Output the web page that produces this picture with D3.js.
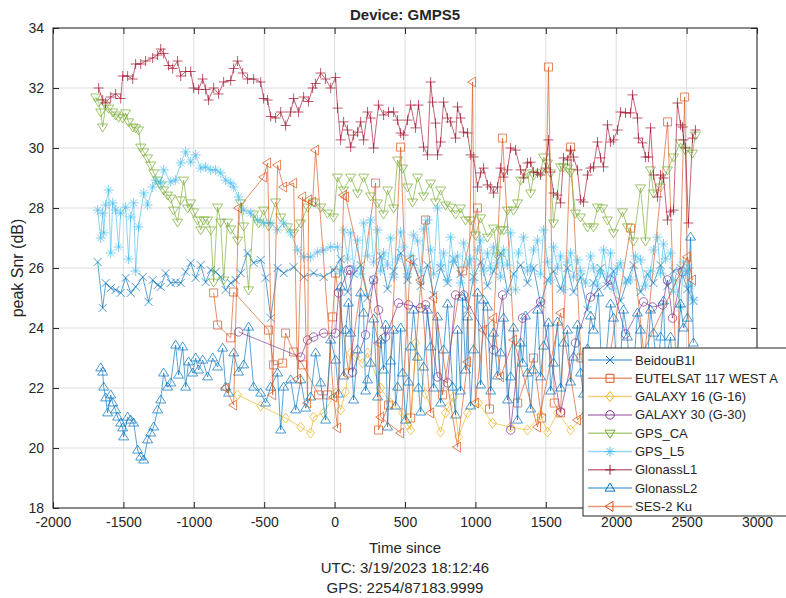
<!DOCTYPE html>
<html>
<head>
<meta charset="utf-8">
<script src="https://cdn.jsdelivr.net/npm/d3@7"></script>
<style>
  body { margin: 0; background: #fff; }
  text { font-family: "Liberation Sans", Arial, Helvetica, sans-serif; fill: #262626; }
</style>
</head>
<body>
<div id="chart"></div>
<script>
// ---- data (time since reference, peak snr in dB) ----
const beidouT = [-1683,-1647,-1626,-1590,-1555,-1519,-1484,-1448,-1413,-1363,-1321,-1292,-1257,-1235,-1200,-1164,-1129,-1093,-1058,-1022,-987,-951,-916,-880,-845,-809,-774,-738,-703,-667,-618,-575,-525,-490,-454,-405,-362,-291,-220,-149,-78,-7,43,92,135,185,234,277,327,376,419,469,518,561,611,660,703,753,802,845,895,944,987,1037,1086,1129,1179,1228,1271,1321,1370,1413,1463,1512,1555,1605,1654,1697,1747,1796,1839,1889,1938,1981,2031,2080,2123,2173,2222,2265,2315,2364,2407,2457,2506,2549];
const beidouV = [26.2,24.67,25.5,25.33,25.27,25.17,25.67,25.17,25.37,25.7,24.87,25.6,25.43,25.37,25.83,25.5,25.53,25.5,25.87,26.17,25.67,26.1,25.53,25.93,25.87,25.7,25.27,25.5,25.6,25.83,26.5,26.17,26.27,25.67,24.33,26.0,25.83,26.03,25.7,25.83,25.7,25.93,26.3,25.2,25.8,26.1,25.0,25.6,26.4,25.3,25.9,26.5,25.6,26.2,25.4,26.1,25.1,26.0,25.5,26.3,25.8,24.6,25.7,26.2,25.4,25.9,26.5,25.2,25.8,26.1,25.5,26.0,24.8,25.6,25.9,25.3,26.0,25.2,25.7,24.6,25.5,26.0,25.4,25.9,24.9,25.6,26.1,25.2,25.8,25.5,26.1,25.4,25.9,26.0,25.3,24.9];

const eutelT = [-859,-831,-738,-717,-469,-433,-369,-348,-291,-227,-114,-50,-14,7,100,291,312,383,469,540,646,767,909,1015,1100,1193,1300,1413,1470,1519,1560,1605,1676,1750,1900,2102,2200,2365,2430,2486,2520];
const eutelV = [25.17,24.1,23.67,25.2,23.93,22.77,22.83,23.83,23.2,22.77,21.77,21.77,24.37,25.83,22.5,28.83,20.6,21.43,30.03,21.0,27.6,21.77,25.9,28.0,21.3,30.33,21.5,23.0,21.0,32.7,21.5,21.17,30.03,23.0,21.5,27.33,23.0,30.87,22.0,31.7,22.0];

const gal16T = [-689,-525,-348,-241,-170,-149,-78,7,43,78,114,149,199,234,327,398,483,518,540,575,646,753,788,809,845,880,944,1022,1122,1250,1370,1463,1512,1583,1676,1818,1960,2102];
const gal16V = [21.77,21.4,21.0,20.7,20.5,21.03,21.17,21.83,21.27,21.87,23.17,23.03,22.83,23.17,22.0,21.5,21.17,20.77,20.6,23.5,21.8,20.53,21.17,21.37,21.7,20.37,21.17,21.5,20.83,20.7,20.6,21.1,20.53,21.17,20.6,21.3,20.8,21.5];

const gal30T = [-682,-241,-192,-149,-78,7,28,99,114,128,220,277,312,362,454,525,611,646,731,802,859,916,1129,1193,1250,1335,1463,1605,1711,1818,1960,2066,2194,2258,2329,2364,2400,2471];
const gal30V = [23.87,23.03,23.6,23.7,23.83,23.83,25.17,25.93,25.93,22.53,23.77,25.6,24.6,23.7,24.83,24.77,24.67,24.77,22.37,22.17,25.1,25.1,23.27,25.1,20.6,24.33,24.87,21.2,23.5,25.03,25.6,23.8,24.87,24.7,24.77,25.6,24.33,25.87];

const gpsCaT = [-1697,-1676,-1661,-1647,-1626,-1605,-1576,-1555,-1534,-1505,-1484,-1463,-1434,-1413,-1392,-1377,-1356,-1328,-1306,-1285,-1257,-1235,-1214,-1186,-1164,-1143,-1115,-1093,-1072,-1044,-1022,-1001,-973,-951,-930,-902,-880,-859,-831,-809,-788,-760,-738,-689,-667,-646,-611,-575,-540,-504,-469,-419,-383,-334,-291,-241,-192,-149,-99,-50,-7,21,64,114,163,206,256,305,348,376,419,447,483,518,554,589,632,682,717,753,788,824,859,895,930,966,1001,1037,1086,1129,1157,1179,1200,1228,1271,1299,1321,1370,1392,1413,1463,1484,1512,1534,1555,1605,1626,1654,1676,1711,1747,1796,1839,1867,1903,1938,1981,2045,2080,2123,2173,2208,2244,2265,2315,2364,2407,2457,2492,2542,2563];
const gpsCaV = [31.7,31.53,31.2,30.7,31.43,31.33,31.2,31.1,31.03,31.0,31.17,30.87,30.7,30.67,30.6,30.03,29.87,29.67,29.43,29.17,28.93,28.77,28.6,28.43,28.33,27.93,27.53,28.27,28.93,28.0,28.17,27.87,27.6,27.27,27.6,27.6,27.27,25.53,28.03,27.53,25.6,27.53,27.3,26.93,28.17,27.4,25.27,27.8,27.5,27.93,27.4,28.2,27.7,27.37,27.17,27.5,28.03,28.2,28.03,27.83,27.7,29.03,28.6,29.03,28.5,29.03,28.4,28.17,27.8,28.6,28.0,29.6,29.33,28.7,28.2,29.03,28.4,28.83,28.2,28.6,28.1,28.03,27.8,28.0,27.6,27.6,27.1,27.67,27.03,27.33,26.4,27.27,27.27,27.93,27.93,28.17,28.93,29.17,28.5,29.1,29.17,29.7,29.5,29.17,27.5,29.37,29.37,29.33,29.2,27.83,27.7,27.37,27.37,28.03,28.0,27.6,27.17,27.87,27.37,26.9,28.67,26.9,29.27,28.5,28.7,29.27,29.7,30.17,29.93,29.83,30.43];

const gpsL5T = [-1683,-1661,-1647,-1640,-1626,-1605,-1590,-1576,-1555,-1534,-1519,-1484,-1463,-1448,-1427,-1413,-1392,-1356,-1328,-1292,-1271,-1235,-1214,-1164,-1129,-1093,-1058,-1022,-987,-951,-916,-880,-845,-809,-774,-738,-717,-682,-646,-596,-547,-504,-454,-405,-362,-312,-263,-220,-170,-121,-78,-28,
  21,43,64,92,114,135,163,185,206,234,256,277,305,327,348,376,398,419,447,469,490,518,540,561,589,611,632,660,682,703,731,753,774,802,824,845,873,895,916,944,966,987,1015,1037,1058,1086,1108,1129,1157,1179,1200,1228,1250,1285,1306,1342,1370,1392,1413,1441,1463,1484,1512,1534,1555,1583,1605,1626,1654,1676,1697,1725,1747,1782,1818,1839,1867,1889,1910,1938,1960,1981,2009,2031,2066,2102,2137,2173,2208,2244,2265,2293,2315,2336,2350,2386,2407,2421,2457,2478,2492,2513,2528,2549];
const gpsL5V = [27.93,27.0,27.83,27.17,28.1,28.6,26.5,28.17,27.93,26.7,27.83,28.03,26.3,27.7,28.17,25.9,27.37,28.5,28.1,28.7,28.93,28.83,29.27,28.87,28.93,29.5,29.87,29.53,29.77,29.33,29.37,29.27,29.27,29.17,28.93,28.83,28.7,28.37,27.93,27.83,27.6,27.5,27.5,27.27,27.5,27.17,26.6,26.37,26.37,26.53,26.6,26.7,
  26.7,25.9,27.27,26.3,27.17,26.0,26.93,25.8,27.5,26.4,27.6,26.2,27.27,25.9,26.5,26.1,27.0,25.7,26.3,27.2,26.7,25.8,26.4,27.1,26.9,25.9,27.3,27.6,26.6,25.8,28.0,26.1,26.5,25.6,27.03,26.2,26.4,25.5,26.83,26.1,26.3,25.6,26.6,26.93,25.9,26.5,26.0,26.7,26.17,25.7,26.6,26.1,27.17,25.27,26.5,27.03,25.9,26.03,26.6,26.93,25.8,27.27,26.2,25.6,26.7,26.0,26.4,25.27,26.2,26.5,25.7,26.27,25.9,25.5,26.4,26.0,25.4,25.83,26.6,25.7,26.5,25.3,26.0,26.17,25.5,25.6,26.4,26.27,25.4,25.9,26.6,27.03,25.83,26.8,26.3,26.5,25.2,25.6,24.7,26.2,25.8,26.0,25.4,24.93];

const glo1T = [-1676,-1647,-1626,-1590,-1555,-1519,-1505,-1470,-1434,-1413,-1377,-1342,-1292,-1257,-1235,-1214,-1179,-1150,-1115,-1093,-1058,-1022,-1001,-966,-937,-916,-895,-859,-824,-788,-738,-717,-689,-653,-618,-575,-525,-504,-476,-454,-419,-383,-348,-312,-291,-256,-220,-185,-156,-135,-99,-64,-28,7,21,43,64,92,114,135,163,185,206,234,256,277,312,348,383,419,447,469,490,518,540,575,596,632,660,682,696,717,731,753,774,802,824,859,873,895,916,944,966,987,1015,1037,1058,1086,1108,1129,1157,1179,1200,1228,1250,1285,1321,1342,1370,1392,1413,1441,1463,1498,1519,1534,1555,1583,1605,1626,1654,1676,1697,1725,1747,1768,1796,1818,1839,1867,1889,1910,1938,1960,1981,2009,2031,2066,2102,2116,2151,2158,2187,2208,2229,2244,2265,2293,2315,2336,2364,2386,2407,2435,2457,2471,2478,2492,2513,2542,2563];
const glo1V = [32.0,31.6,31.5,31.7,31.8,31.65,32.4,32.4,32.3,32.8,32.8,32.9,33.0,33.1,33.3,33.15,32.75,32.65,32.9,32.4,32.55,32.55,32.0,31.95,32.3,31.95,31.6,32.0,31.8,32.2,32.25,32.65,32.9,32.5,32.3,32.3,32.2,31.65,31.6,31.05,31.0,31.2,30.75,31.2,31.65,31.2,31.7,31.55,32.0,32.15,32.5,32.3,32.0,32.35,31.33,30.27,30.87,30.6,30.03,30.43,30.53,30.87,30.27,31.2,31.0,30.0,31.43,31.1,31.2,31.2,30.93,30.5,30.43,30.93,31.43,30.67,31.43,30.03,29.77,32.2,31.53,30.83,29.77,30.2,31.53,31.0,30.87,30.33,31.37,31.0,30.53,30.5,29.77,29.7,28.7,29.17,29.33,28.77,28.7,28.5,28.7,29.33,29.03,29.27,30.0,29.93,29.27,29.0,29.5,29.53,29.2,29.17,29.1,29.33,30.27,29.2,28.5,28.43,28.17,29.67,29.6,29.93,29.7,29.27,28.27,28.2,29.1,29.33,29.37,30.2,29.67,29.37,30.77,30.2,30.27,30.6,31.2,31.17,31.17,31.77,31.0,30.33,30.17,29.7,29.7,30.67,29.1,28.37,29.1,29.0,27.6,27.87,27.93,31.5,30.77,30.7,30.27,30.0,27.5,30.33,30.6];

const glo2T = [-1661,-1647,-1640,-1626,-1612,-1590,-1576,-1555,-1541,-1519,-1505,-1498,-1470,-1448,-1427,-1399,-1377,-1356,-1328,-1306,-1285,-1257,-1235,-1214,-1186,-1164,-1129,-1108,-1079,-1058,-1037,-1008,-987,-966,-937,-902,-866,-831,-795,-774,-753,-717,-682,-646,-611,-575,-525,-490,-454,-405,-383,-362,-312,-277,-241,-206,-170,-135,-99,-64,-28,
  7,28,43,64,78,99,114,135,163,185,206,220,234,256,277,305,327,348,362,376,398,419,433,447,469,483,504,525,540,561,589,596,611,632,660,682,703,731,753,774,802,838,859,873,895,909,930,944,966,987,1015,1037,1058,1086,1108,1129,1157,1179,1200,1228,1250,1271,1299,1321,1335,1356,1370,1392,1413,1441,1463,1484,1519,1534,1555,1583,1605,1626,1654,1676,1697,1725,1747,1768,1796,1818,1839,1874,1903,1924,1960,1981,2009,2031,2052,2080,2102,2123,2151,2173,2194,2222,2244,2265,2293,2315,2336,2350,2386,2407,2435,2457,2478,2506,2528,2549];
const glo2V = [22.67,22.53,22.03,21.67,21.17,21.77,21.5,21.27,21.03,20.83,20.67,20.37,21.03,20.93,20.83,19.93,19.7,19.6,20.27,20.5,20.7,21.27,21.6,22.5,22.03,22.17,23.43,22.43,23.37,22.03,22.87,22.5,23.0,22.6,22.93,22.37,23.0,22.7,23.33,22.03,21.83,23.17,22.53,22.77,24.03,22.03,21.83,21.5,22.03,22.5,20.6,22.03,22.27,21.27,22.27,21.33,21.7,23.17,22.17,20.93,23.6,
  22.93,21.8,25.37,22.4,23.93,24.83,23.83,21.6,23.27,25.17,24.5,21.9,22.27,22.83,24.3,21.7,23.6,22.6,24.1,20.7,22.9,23.93,21.4,22.03,24.0,22.5,20.93,22.2,23.37,24.6,23.03,22.0,21.2,22.7,24.6,23.37,22.0,24.37,21.5,23.27,24.8,22.03,21.1,23.93,21.9,25.03,22.6,24.37,21.4,23.27,25.17,22.1,24.93,24.7,21.9,23.83,22.4,23.17,24.33,21.6,22.37,24.0,20.93,23.5,22.83,24.4,22.5,21.3,22.6,24.6,22.37,23.4,24.17,21.9,22.83,24.2,22.0,23.5,23.93,22.2,23.03,24.1,22.5,21.8,23.3,24.4,23.93,25.17,21.9,22.8,24.8,24.33,22.3,23.0,24.6,23.7,21.8,22.6,24.5,23.93,22.1,22.9,24.6,23.83,22.4,23.7,24.9,22.9,23.7,22.1,23.0,24.8,24.0,24.33,27.03,23.5];

const sesT = [-774,-717,-682,-504,-476,-440,-405,-362,-291,-263,-227,-192,-185,-156,-135,-7,21,64,78,312,327,469,540,611,682,703,873,944,980,1000,1058,1129,1179,1271,1441,1605,1725,1889,2173,2506,2542];
const sesV = [22.0,21.43,28.0,29.03,29.5,21.77,29.43,28.7,28.83,22.3,28.37,21.5,28.27,28.2,29.93,21.7,20.67,28.43,28.37,23.5,21.03,20.5,26.27,25.6,21.17,25.0,20.03,22.87,32.2,21.5,23.93,24.33,22.37,23.6,20.7,24.5,20.93,22.0,23.0,26.37,25.6];

const seriesNames = ["BeidouB1I","EUTELSAT 117 WEST A","GALAXY 16 (G-16)","GALAXY 30 (G-30)","GPS_CA","GPS_L5","GlonassL1","GlonassL2","SES-2 Ku"];
const seriesT = [beidouT, eutelT, gal16T, gal30T, gpsCaT, gpsL5T, glo1T, glo2T, sesT];
const seriesV = [beidouV, eutelV, gal16V, gal30V, gpsCaV, gpsL5V, glo1V, glo2V, sesV];
const seriesColor = ["#0072BD","#D95319","#EDB120","#7E2F8E","#77AC30","#4DBEEE","#A2142F","#0072BD","#D95319"];
const seriesMarker = ["x","s","d","o","v","*","+","^","<"];

const xTicks = [-2000,-1500,-1000,-500,0,500,1000,1500,2000,2500,3000];
const yTicks = [18,20,22,24,26,28,30,32,34];

// ---- layout ----
const W = 786, H = 598;
const padL = 53, padR = 757, padT = 28, padB = 508;

const svg = d3.select("#chart").append("svg")
    .attr("width", W)
    .attr("height", H);

const x = d3.scaleLinear().domain([-2000, 3000]).range([padL, padR]);
const y = d3.scaleLinear().domain([18, 34]).range([padB, padT]);

// grid
const grid = svg.append("g");
grid.selectAll(".gx").data(xTicks).enter().append("line")
    .attr("x1", d => x(d)).attr("x2", d => x(d))
    .attr("y1", padT).attr("y2", padB)
    .attr("stroke", "#dcdcdc").attr("stroke-width", 1);
grid.selectAll(".gy").data(yTicks).enter().append("line")
    .attr("x1", padL).attr("x2", padR)
    .attr("y1", d => y(d)).attr("y2", d => y(d))
    .attr("stroke", "#dcdcdc").attr("stroke-width", 1);

// marker shapes (MATLAB-like)
function markerPath(type, r) {
  switch (type) {
    case "x": return `M${-r*0.8},${-r*0.8}L${r*0.8},${r*0.8}M${-r*0.8},${r*0.8}L${r*0.8},${-r*0.8}`;
    case "+": return `M${-r},0H${r}M0,${-r}V${r}`;
    case "*": return `M${-r},0H${r}M0,${-r}V${r}M${-r*0.7},${-r*0.7}L${r*0.7},${r*0.7}M${-r*0.7},${r*0.7}L${r*0.7},${-r*0.7}`;
    case "s": return `M${-r*0.8},${-r*0.8}H${r*0.8}V${r*0.8}H${-r*0.8}Z`;
    case "d": return `M0,${-r}L${r*0.8},0L0,${r}L${-r*0.8},0Z`;
    case "o": return `M${r*0.85},0A${r*0.85},${r*0.85} 0 1,1 ${-r*0.85},0A${r*0.85},${r*0.85} 0 1,1 ${r*0.85},0Z`;
    case "v": return `M${-r},${-r*0.6}L${r},${-r*0.6}L0,${r}Z`;
    case "^": return `M${-r},${r*0.6}L${r},${r*0.6}L0,${-r}Z`;
    case "<": return `M${r*0.6},${-r}L${r*0.6},${r}L${-r},0Z`;
  }
}

const line = d3.line().x(d => x(d[0])).y(d => y(d[1]));

const plot = svg.append("g");
seriesNames.forEach((name, i) => {
  const pts = seriesT[i].map((t, k) => [t, seriesV[i][k]]);
  const g = plot.append("g");
  g.append("path")
    .datum(pts)
    .attr("d", line)
    .attr("fill", "none")
    .attr("stroke", seriesColor[i])
    .attr("stroke-opacity", 0.65)
    .attr("stroke-width", 1);
  g.selectAll("path.m").data(pts).enter().append("path")
    .attr("class", "m")
    .attr("transform", d => `translate(${x(d[0])},${y(d[1])})`)
    .attr("d", markerPath(seriesMarker[i], 5))
    .attr("fill", "none")
    .attr("stroke", seriesColor[i])
    .attr("stroke-opacity", 0.7)
    .attr("stroke-width", 1);
});

// axes box and ticks
const axisColor = "#262626";
svg.append("rect")
    .attr("x", padL).attr("y", padT)
    .attr("width", padR - padL).attr("height", padB - padT)
    .attr("fill", "none").attr("stroke", axisColor).attr("stroke-width", 1);

const xAxis = svg.append("g")
    .attr("transform", `translate(0,${padB})`)
    .call(d3.axisBottom(x).tickValues(xTicks).tickSize(-6).tickPadding(9).tickFormat(d3.format("d")));
const xAxisTop = svg.append("g")
    .attr("transform", `translate(0,${padT})`)
    .call(d3.axisTop(x).tickValues(xTicks).tickSize(-6).tickFormat(""));
const yAxis = svg.append("g")
    .attr("transform", `translate(${padL},0)`)
    .call(d3.axisLeft(y).tickValues(yTicks).tickSize(-6).tickPadding(9));
const yAxisRight = svg.append("g")
    .attr("transform", `translate(${padR},0)`)
    .call(d3.axisRight(y).tickValues(yTicks).tickSize(-6).tickFormat(""));

[xAxis, xAxisTop, yAxis, yAxisRight].forEach(a => {
  a.select(".domain").remove();
  a.selectAll(".tick line").attr("stroke", axisColor);
  a.selectAll("text")
    .style("font-family", "'Liberation Sans', Arial, sans-serif")
    .style("font-size", "14px")
    .attr("fill", axisColor);
});
xAxis.selectAll("text").text(d => d < 0 ? "-" + Math.abs(d) : d);

// title and labels
svg.append("text")
    .attr("x", (padL + padR) / 2).attr("y", 20)
    .attr("text-anchor", "middle")
    .style("font-size", "15px").style("font-weight", "bold")
    .text("Device: GMPS5");

svg.append("text")
    .attr("transform", `translate(23,${(padT + padB) / 2}) rotate(-90)`)
    .attr("text-anchor", "middle")
    .style("font-size", "16px")
    .text("peak Snr (dB)");

const xLabelLines = ["Time since", "UTC: 3/19/2023 18:12:46", "GPS: 2254/87183.9999"];
svg.append("g").selectAll("text").data(xLabelLines).enter().append("text")
    .attr("x", (padL + padR) / 2)
    .attr("y", (d, i) => 553 + i * 20)
    .attr("text-anchor", "middle")
    .style("font-size", "15px")
    .text(d => d);

// legend
const lg = svg.append("g").attr("transform", "translate(583,348)");
lg.append("rect")
    .attr("x", 0).attr("y", 0)
    .attr("width", 230).attr("height", 168)
    .attr("fill", "#fff").attr("stroke", axisColor).attr("stroke-width", 1);
seriesNames.forEach((name, i) => {
  const yy = 12 + i * 18.3;
  lg.append("line")
    .attr("x1", 5).attr("x2", 49).attr("y1", yy).attr("y2", yy)
    .attr("stroke", seriesColor[i]).attr("stroke-opacity", 0.6).attr("stroke-width", 1.5);
  lg.append("path")
    .attr("transform", `translate(27,${yy})`)
    .attr("d", markerPath(seriesMarker[i], 5))
    .attr("fill", "none").attr("stroke", seriesColor[i]).attr("stroke-width", 1);
  lg.append("text")
    .attr("x", 52).attr("y", yy + 4.5)
    .style("font-size", "13px")
    .text(name);
});
</script>
</body>
</html>
